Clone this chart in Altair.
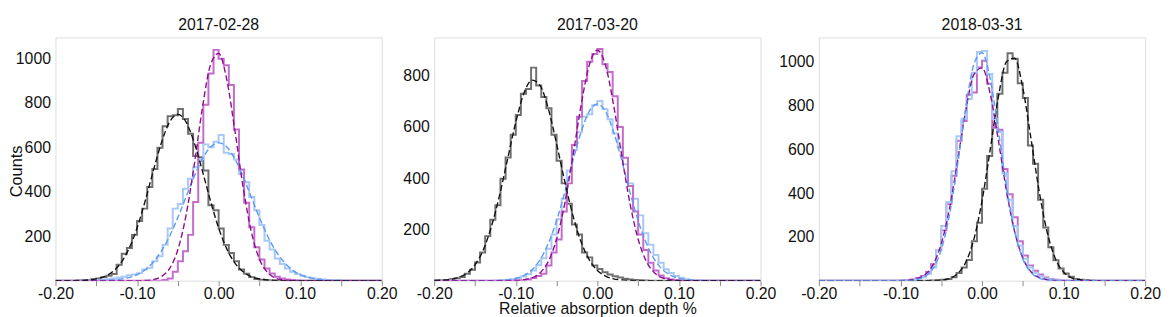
import altair as alt
import pandas as pd
import numpy as np

# ---------------- data ----------------
N_BINS = 64
X_MIN, X_MAX = -0.20, 0.20
BIN_EDGES = np.linspace(X_MIN, X_MAX, N_BINS + 1)

FIT_X = [-0.20, -0.19, -0.18, -0.17, -0.16, -0.15, -0.14, -0.13, -0.12, -0.11,
         -0.10, -0.09, -0.08, -0.07, -0.06, -0.05, -0.04, -0.03, -0.02, -0.01,
         0.00, 0.01, 0.02, 0.03, 0.04, 0.05, 0.06, 0.07, 0.08, 0.09,
         0.10, 0.11, 0.12, 0.13, 0.14, 0.15, 0.16, 0.17, 0.18, 0.19, 0.20]

TITLES = ["2017-02-28", "2017-03-20", "2018-03-31"]
X_TICKS = [-0.20, -0.15, -0.10, -0.05, 0.00, 0.05, 0.10, 0.15, 0.20]
Y_TICKS_1 = [200, 400, 600, 800, 1000]
Y_TICKS_2 = [200, 400, 600, 800]
Y_TICKS_3 = [200, 400, 600, 800, 1000]
Y_MAX = [1094, 950, 1112]

# histogram counts (64 bins over -0.20..0.20)
H1_GRAY = [0, 0, 0, 0, 1, 2, 3, 6, 10, 16, 22, 30,
           72, 121, 147, 206, 268, 324, 421, 502, 598, 695, 739, 744, 772, 727, 661, 561,
           555, 495, 339, 317, 235, 161, 124, 87, 50, 31, 16, 8, 4, 2, 1] + [0] * 21
H1_MAG = [0] * 21 + [3, 10, 40, 87, 132, 206, 354, 620, 791, 932, 1038, 998, 969, 880,
                     680, 500, 350, 240, 150, 95, 55, 32, 18, 10, 5, 3, 1] + [0] * 16
H1_BLUE = [0] * 5 + [1, 1, 2, 3, 5, 7, 10, 14, 18, 24, 28, 34, 50, 58, 87, 110, 161, 235,
                     324, 345, 413, 458, 510, 546, 613, 600, 625, 655, 575, 570, 545, 480,
                     443, 376, 317, 250, 180, 140, 100, 75, 55, 40, 30, 22, 16, 11, 8, 5,
                     3, 2, 1] + [0] * 8

H2_GRAY = [1, 2, 3, 6, 9, 14, 27, 43, 71, 110, 174, 238, 295, 398, 481, 570, 647, 730,
           749, 832, 762, 717, 673, 570, 468, 380, 300, 219, 180, 110, 91, 59, 46, 33,
           24, 17, 12, 8, 5, 3, 2, 1] + [0] * 22
H2_MAG = [0] * 16 + [1, 2, 5, 10, 18, 27, 59, 110, 161, 270, 380, 530, 640, 780, 855, 885,
                     905, 845, 815, 720, 600, 480, 370, 270, 180, 120, 70, 40, 20, 10, 5,
                     2, 1] + [0] * 15
H2_BLUE = [0] * 12 + [1, 2, 3, 6, 10, 16, 25, 40, 60, 88, 125, 180, 240, 320, 430, 510,
                      580, 640, 650, 685, 702, 670, 630, 575, 520, 455, 380, 320, 255, 185,
                      140, 100, 70, 45, 30, 18, 11, 6, 3, 2, 1] + [0] * 11

H3_GRAY = [0] * 22 + [1, 2, 4, 8, 16, 35, 60, 95, 180, 265, 420, 570, 700, 855, 950, 1040,
                      1015, 902, 835, 618, 535, 370, 243, 153, 93, 56, 33, 18, 8, 4, 2,
                      1] + [0] * 10
H3_MAG = [0] * 16 + [1, 3, 6, 12, 22, 40, 75, 140, 230, 350, 480, 640, 730, 850, 860, 975,
                     1005, 900, 700, 690, 510, 395, 290, 180, 115, 70, 45, 28, 15, 8, 4,
                     2, 1] + [0] * 15
H3_BLUE = [0] * 16 + [1, 2, 4, 8, 16, 32, 60, 140, 250, 360, 500, 660, 740, 830, 950, 1045,
                      1050, 945, 740, 680, 490, 370, 250, 160, 100, 60, 36, 20, 10, 5, 2,
                      1] + [0] * 16

# fitted curves, sampled on FIT_X
FIT1_GRAY = [0, 0, 0, 1, 3, 8, 18, 40, 79, 143, 237, 359, 495, 622, 714, 748, 714, 622,
             495, 359, 237, 143, 79, 40, 18, 8, 3, 1] + [0] * 13
FIT1_MAG = [0] * 11 + [1, 5, 19, 55, 139, 293, 518, 774, 970, 1022, 904, 673, 421, 221,
                       97, 37, 11, 3] + [0] * 12
FIT1_BLUE = [0, 0, 0, 0, 0, 1, 1, 3, 7, 14, 27, 49, 84, 134, 201, 284, 376, 468, 547, 601,
             620, 601, 547, 468, 376, 284, 201, 134, 84, 49, 27, 14, 7, 3, 1, 1,
             0, 0, 0, 0, 0]

FIT2_GRAY = [1, 2, 5, 13, 29, 62, 119, 210, 332, 476, 619, 732, 783, 761, 670, 535, 388,
             255, 152, 82, 40, 18, 7, 3, 1] + [0] * 16
FIT2_MAG = [0] * 10 + [1, 4, 11, 31, 76, 162, 301, 486, 684, 841, 900, 841, 684, 486, 301,
                       162, 76, 31, 11, 4, 1] + [0] * 10
FIT2_BLUE = [0] * 8 + [1, 4, 9, 21, 43, 83, 146, 234, 345, 468, 580, 661, 690, 661, 580,
                       468, 345, 234, 146, 83, 43, 21, 9, 4, 1] + [0] * 8

FIT3_GRAY = [0] * 14 + [1, 3, 10, 32, 84, 189, 365, 599, 839, 1001, 1017, 881, 650, 409,
                        219, 100, 39, 13, 4, 1] + [0] * 7
FIT3_MAG = [0] * 11 + [2, 9, 27, 73, 168, 327, 547, 777, 942, 973, 855, 642, 410, 224,
                       104, 41, 14, 4, 1] + [0] * 11
FIT3_BLUE = [0] * 11 + [1, 5, 19, 56, 141, 299, 528, 789, 989, 1042, 922, 687, 430, 226,
                        99, 37, 12, 3, 1] + [0] * 11

# ---------------- style ----------------
FONT = "Liberation Sans"
C_GRAY_H = "#707070"
C_GRAY_F = "#111111"
C_MAG_H = "#c36ccb"
C_MAG_F = "#8e0c8e"
C_BLUE_H = "#a8c8f7"
C_BLUE_F = "#5b9bf0"
W = 330
H = 246
LABEL_SIZE = 16


def hist_df(counts):
    return pd.DataFrame({"x": list(BIN_EDGES), "y": list(counts) + [counts[-1]]})


def fit_df(vals):
    return pd.DataFrame({"x": FIT_X, "y": vals})


def panel(title, hists, fits, ymax, yticks, ytitle=False, xtitle=False):
    xscale = alt.Scale(domain=[X_MIN, X_MAX], nice=False, zero=False)
    yscale = alt.Scale(domain=[0, ymax], nice=False)
    x_axis_kw = dict(
        values=X_TICKS,
        labelExpr="(round(datum.value*100) % 10 == 0) ? ((datum.value < -0.001 ? '-' : '') + format(abs(datum.value), '.2f')) : ''",
        grid=False, domain=False, ticks=True, tickSize=5, tickColor="#8a8a8a", tickWidth=1,
        labelFont=FONT, labelFontSize=LABEL_SIZE, labelColor="#111", labelPadding=0,
        labelFlush=False, labelOverlap=False,
    )
    if xtitle:
        x_axis_kw.update(titleFont=FONT, titleFontSize=16, titleFontWeight="normal",
                         titleColor="#111", titlePadding=-1)
    y_axis_kw = dict(
        values=yticks, format="d", grid=False, domain=False, ticks=False,
        labelFont=FONT, labelFontSize=LABEL_SIZE, labelColor="#111", labelPadding=5,
    )
    if ytitle:
        y_axis_kw.update(titleFont=FONT, titleFontSize=16.5, titleFontWeight="normal",
                         titleColor="#111", titleAngle=270, titleX=-39, titleY=135,
                         titleAlign="center", titleBaseline="middle")
    x_enc = alt.X("x:Q", scale=xscale, axis=alt.Axis(**x_axis_kw),
                  title="Relative absorption depth %" if xtitle else None)
    y_enc = alt.Y("y:Q", scale=yscale, axis=alt.Axis(**y_axis_kw),
                  title="Counts" if ytitle else None)
    layers = []
    for counts, color in hists:
        layers.append(
            alt.Chart(hist_df(counts)).mark_line(
                interpolate="step-after", color=color, strokeWidth=2, clip=True
            ).encode(x=x_enc, y=y_enc)
        )
    for vals, color in fits:
        layers.append(
            alt.Chart(fit_df(vals)).mark_line(
                interpolate="monotone", color=color, strokeWidth=1.4,
                strokeDash=[6, 3], clip=True
            ).encode(x=x_enc, y=y_enc)
        )
    return alt.layer(*layers).properties(
        width=W, height=H,
        title=alt.TitleParams(TITLES[title], font=FONT, fontSize=16, fontWeight="normal",
                              color="#111", offset=5, anchor="middle"),
    )


p1 = panel(0,
           [(H1_GRAY, C_GRAY_H), (H1_BLUE, C_BLUE_H), (H1_MAG, C_MAG_H)],
           [(FIT1_BLUE, C_BLUE_F), (FIT1_MAG, C_MAG_F), (FIT1_GRAY, C_GRAY_F)],
           Y_MAX[0], Y_TICKS_1, ytitle=True)
p2 = panel(1,
           [(H2_GRAY, C_GRAY_H), (H2_BLUE, C_BLUE_H), (H2_MAG, C_MAG_H)],
           [(FIT2_BLUE, C_BLUE_F), (FIT2_MAG, C_MAG_F), (FIT2_GRAY, C_GRAY_F)],
           Y_MAX[1], Y_TICKS_2, xtitle=True)
p3 = panel(2,
           [(H3_GRAY, C_GRAY_H), (H3_MAG, C_MAG_H), (H3_BLUE, C_BLUE_H)],
           [(FIT3_GRAY, C_GRAY_F), (FIT3_MAG, C_MAG_F), (FIT3_BLUE, C_BLUE_F)],
           Y_MAX[2], Y_TICKS_3)

right = alt.hconcat(p2, p3, spacing=59, bounds="flush")
chart = alt.hconcat(p1, right, spacing=53, bounds="flush").properties(
    padding={"left": 0, "top": 6, "right": 0, "bottom": 0}
).configure_view(stroke="#8a8a8a", strokeWidth=1.3).configure(background="white")

chart.save("out.html", embed_options={"renderer": "svg", "actions": False})
